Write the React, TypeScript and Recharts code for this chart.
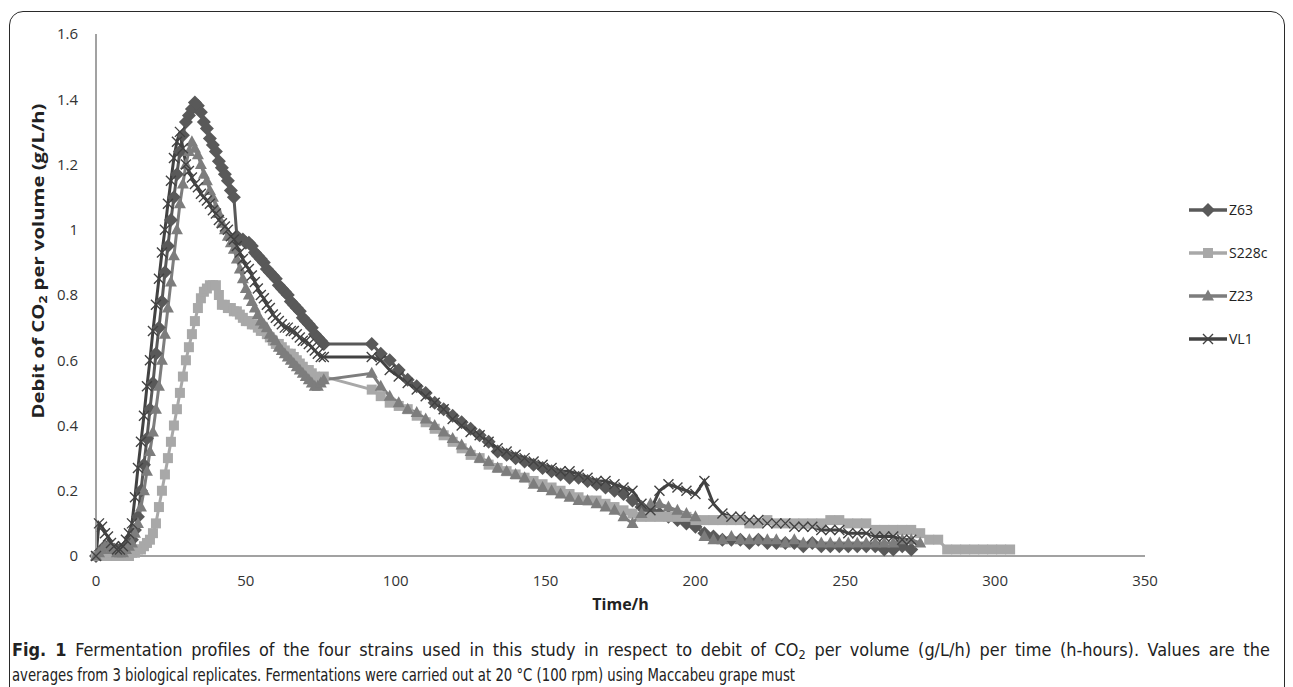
import { useLayoutEffect, useRef, useState } from "react";
import { Legend, Line, LineChart, XAxis, YAxis } from "recharts";

// sampling times (h): hourly while the peak builds, then every 3 h after the overnight gap (76 -> 92)
const TIME_H = [
  0, 1, 2, 3, 4, 5, 6, 7, 8, 9, 10, 11, 12, 13, 14, 15, 16, 17, 18, 19,
  20, 21, 22, 23, 24, 25, 26, 27, 28, 29, 30, 31, 32, 33, 34, 35, 36, 37, 38, 39,
  40, 41, 42, 43, 44, 45, 46, 47, 48, 49, 50, 51, 52, 53, 54, 55, 56, 57, 58, 59,
  60, 61, 62, 63, 64, 65, 66, 67, 68, 69, 70, 71, 72, 73, 74, 75, 76,
  92, 95, 98, 101, 104, 107, 110, 113, 116, 119, 122, 125, 128, 131, 134, 137, 140, 143, 146, 149,
  152, 155, 158, 161, 164, 167, 170, 173, 176, 179, 182, 185, 188, 191, 194, 197, 200, 203, 206, 209,
  212, 215, 218, 221, 224, 227, 230, 233, 236, 239, 242, 245, 248, 251, 254, 257, 260, 263, 266, 269,
  272, 275, 278, 281, 284, 287, 290, 293, 296, 299, 302, 305,
];

const Z63 = [
  0, 0.01, 0.02, 0.03, 0.03, 0.02, 0.02, 0.02, 0.02, 0.02, 0.03, 0.04, 0.05, 0.08, 0.12, 0.2, 0.28, 0.36, 0.45, 0.53,
  0.62, 0.7, 0.78, 0.87, 0.95, 1.03, 1.1, 1.17, 1.24, 1.29, 1.33, 1.35, 1.37, 1.39, 1.38, 1.36, 1.33, 1.31, 1.28, 1.26,
  1.24, 1.21, 1.19, 1.17, 1.15, 1.12, 1.1, 0.98, 0.97, 0.97, 0.96, 0.96, 0.95, 0.93, 0.92, 0.91, 0.9, 0.88, 0.87, 0.86,
  0.85, 0.83, 0.82, 0.81, 0.8, 0.78, 0.77, 0.76, 0.75, 0.73, 0.72, 0.71, 0.7, 0.68, 0.67, 0.66, 0.65,
  0.65, 0.62, 0.6, 0.57, 0.54, 0.52, 0.5, 0.47, 0.45, 0.43, 0.41, 0.39, 0.37, 0.35, 0.32, 0.31, 0.3, 0.29, 0.28, 0.27,
  0.26, 0.25, 0.24, 0.24, 0.23, 0.22, 0.21, 0.2, 0.19, 0.17, 0.15, 0.14, 0.13, 0.12, 0.11, 0.1, 0.09, 0.07, 0.06, 0.05,
  0.05, 0.05, 0.04, 0.05, 0.04, 0.04, 0.04, 0.04, 0.03, 0.04, 0.03, 0.03, 0.03, 0.03, 0.03, 0.03, 0.03, 0.02, 0.02, 0.03,
  0.02, null, null, null, null, null, null, null, null, null, null, null,
];

const S228C = [
  0, 0, 0, 0, 0, 0.01, 0.01, 0, 0, 0, 0, 0, 0.01, 0.01, 0.02, 0.02, 0.03, 0.04, 0.05, 0.07,
  0.1, 0.15, 0.2, 0.25, 0.3, 0.35, 0.4, 0.45, 0.5, 0.55, 0.6, 0.64, 0.68, 0.72, 0.76, 0.79, 0.81, 0.82, 0.83, 0.83,
  0.83, 0.8, 0.77, 0.77, 0.76, 0.76, 0.75, 0.75, 0.74, 0.73, 0.72, 0.72, 0.71, 0.71, 0.7, 0.69, 0.69, 0.68, 0.67, 0.66,
  0.65, 0.65, 0.64, 0.63, 0.62, 0.62, 0.61, 0.6, 0.59, 0.58, 0.57, 0.57, 0.56, 0.55, 0.54, 0.54, 0.55,
  0.51, 0.49, 0.47, 0.46, 0.45, 0.43, 0.41, 0.39, 0.37, 0.35, 0.33, 0.31, 0.3, 0.28, 0.27, 0.26, 0.25, 0.24, 0.23, 0.22,
  0.21, 0.2, 0.19, 0.18, 0.17, 0.17, 0.16, 0.15, 0.14, 0.13, 0.12, 0.12, 0.12, 0.12, 0.12, 0.12, 0.11, 0.11, 0.11, 0.11,
  0.11, 0.11, 0.1, 0.1, 0.11, 0.1, 0.1, 0.1, 0.1, 0.1, 0.1, 0.11, 0.11, 0.1, 0.1, 0.1, 0.08, 0.08, 0.08, 0.08,
  0.08, 0.07, 0.05, 0.05, 0.02, 0.02, 0.02, 0.02, 0.02, 0.02, 0.02, 0.02,
];

const Z23 = [
  0, 0.01, 0.02, 0.03, 0.03, 0.02, 0.02, 0.01, 0.01, 0.01, 0.02, 0.03, 0.04, 0.07, 0.1, 0.15, 0.2, 0.26, 0.32, 0.38,
  0.45, 0.52, 0.6, 0.68, 0.76, 0.84, 0.92, 1.0, 1.08, 1.14, 1.2, 1.24, 1.27, 1.25, 1.23, 1.2, 1.17, 1.15, 1.12, 1.1,
  1.07, 1.05, 1.02, 1.0, 0.98, 0.96, 0.94, 0.91, 0.88, 0.85, 0.82, 0.8, 0.78, 0.76, 0.74, 0.72, 0.71, 0.7, 0.68, 0.67,
  0.66, 0.64, 0.63, 0.62, 0.61, 0.6, 0.59, 0.58, 0.57, 0.56, 0.55, 0.54, 0.53, 0.52, 0.52, 0.53, 0.54,
  0.56, 0.52, 0.49, 0.47, 0.45, 0.44, 0.42, 0.4, 0.38, 0.36, 0.34, 0.32, 0.3, 0.29, 0.27, 0.26, 0.25, 0.24, 0.22, 0.21,
  0.2, 0.19, 0.18, 0.17, 0.17, 0.16, 0.15, 0.14, 0.12, 0.1, 0.13, 0.16, 0.16, 0.15, 0.14, 0.13, 0.12, 0.06, 0.05, 0.05,
  0.06, 0.05, 0.05, 0.05, 0.05, 0.05, 0.04, 0.05, 0.04, 0.04, 0.04, 0.04, 0.04, 0.04, 0.04, 0.04, 0.04, 0.04, 0.04, 0.05,
  0.05, 0.04, null, null, null, null, null, null, null, null, null, null,
];

const VL1 = [
  0, 0.1, 0.09, 0.07, 0.06, 0.04, 0.03, 0.02, 0.02, 0.03, 0.05, 0.07, 0.1, 0.18, 0.27, 0.35, 0.43, 0.52, 0.6, 0.69,
  0.77, 0.85, 0.93, 1.0, 1.08, 1.15, 1.22, 1.27, 1.3, 1.25, 1.2, 1.18, 1.16, 1.14, 1.13, 1.11, 1.1, 1.09, 1.08, 1.06,
  1.05, 1.03, 1.02, 1.01, 1.0, 0.98, 0.97, 0.95, 0.93, 0.91, 0.89, 0.88, 0.86, 0.84, 0.82, 0.8, 0.79, 0.77, 0.76, 0.74,
  0.73, 0.72, 0.71, 0.7, 0.7, 0.69, 0.69, 0.68, 0.67, 0.66, 0.66, 0.65, 0.64, 0.63, 0.62, 0.61, 0.61,
  0.61, 0.6, 0.57, 0.55, 0.53, 0.51, 0.49, 0.47, 0.45, 0.42, 0.4, 0.38, 0.37, 0.35, 0.33, 0.32, 0.31, 0.3, 0.29, 0.28,
  0.27, 0.26, 0.26, 0.25, 0.24, 0.23, 0.23, 0.22, 0.21, 0.2, 0.16, 0.14, 0.2, 0.22, 0.21, 0.2, 0.19, 0.23, 0.16, 0.13,
  0.12, 0.12, 0.11, 0.11, 0.1, 0.1, 0.1, 0.09, 0.09, 0.09, 0.08, 0.08, 0.08, 0.07, 0.07, 0.07, 0.06, 0.06, 0.06, 0.05,
  0.05, null, null, null, null, null, null, null, null, null, null, null,
];

const X_TICKS = [0, 50, 100, 150, 200, 250, 300, 350];
const Y_TICKS = [0, 0.2, 0.4, 0.6, 0.8, 1, 1.2, 1.4, 1.6];

const SERIES = [
  { key: "Z63", values: Z63, color: "#595959", shape: "diamond" },
  { key: "S228c", values: S228C, color: "#a8a8a8", shape: "square" },
  { key: "Z23", values: Z23, color: "#7d7d7d", shape: "triangle" },
  { key: "VL1", values: VL1, color: "#424242", shape: "cross" },
];

const CAPTION_1A = "Fig. 1";
const CAPTION_1B = " Fermentation profiles of the four strains used in this study in respect to debit of CO";
const CAPTION_1C = " per volume (g/L/h) per time (h-hours). Values are the";
const CAPTION_2 =
  "averages from 3 biological replicates. Fermentations were carried out at 20 °C (100 rpm) using Maccabeu grape must";

const rows = TIME_H.map((t, i) => {
  const row: Record<string, number | null> = { t };
  SERIES.forEach((s) => (row[s.key] = s.values[i]));
  return row;
});

const FONT = "'Open Sans', 'DejaVu Sans', sans-serif";
const CAPTION_FONT = "'DejaVu Sans Condensed', 'Liberation Sans Narrow', 'Open Sans', sans-serif";
const AXIS_GREY = "#a2a2a2";

function Marker({ shape, cx, cy, color }: { shape: string; cx?: number; cy?: number; color: string }) {
  if (cx == null || cy == null || Number.isNaN(cx) || Number.isNaN(cy)) return null;
  if (shape === "diamond") {
    return <polygon points={`${cx},${cy - 7} ${cx + 7},${cy} ${cx},${cy + 7} ${cx - 7},${cy}`} fill={color} />;
  }
  if (shape === "square") {
    return <rect x={cx - 5} y={cy - 5} width={10} height={10} fill={color} />;
  }
  if (shape === "triangle") {
    return <polygon points={`${cx},${cy - 6.5} ${cx + 6},${cy + 4.5} ${cx - 6},${cy + 4.5}`} fill={color} />;
  }
  return (
    <path
      d={`M${cx - 5},${cy - 5}L${cx + 5},${cy + 5}M${cx + 5},${cy - 5}L${cx - 5},${cy + 5}`}
      stroke={color}
      strokeWidth={1.4}
      fill="none"
    />
  );
}

// legend keeps the series order of the original (Z63, S228c, Z23, VL1)
const LegendContent = ({ payload }: any) => {
  const items = [...(payload || [])].sort(
    (a: any, b: any) => SERIES.findIndex((s) => s.key === a.value) - SERIES.findIndex((s) => s.key === b.value)
  );
  return (
    <div style={{ fontFamily: FONT, fontSize: 14, color: "#222" }}>
      {items.map((item: any) => {
        const s = SERIES.find((x) => x.key === item.value)!;
        return (
          <div key={s.key} style={{ display: "flex", alignItems: "center", height: 43 }}>
            <svg width={40} height={16} style={{ display: "block" }}>
              <line x1={1} x2={39} y1={8} y2={8} stroke={s.color} strokeWidth={3.5} />
              <Marker shape={s.shape} cx={20} cy={8} color={s.color} />
            </svg>
            <span style={{ marginLeft: 1 }}>{s.key}</span>
          </div>
        );
      })}
    </div>
  );
};

const yLabel = () => (
  <text
    x={38}
    y={261}
    transform="rotate(-90, 38, 261)"
    textAnchor="middle"
    dominantBaseline="central"
    textLength={315}
    lengthAdjust="spacingAndGlyphs"
    fontFamily={FONT}
    fontWeight={700}
    fontSize={16}
    fill="#222"
  >
    Debit of CO<tspan dy={4} fontSize={11}>2</tspan>
    <tspan dy={-4}> per volume (g/L/h)</tspan>
  </text>
);

const xLabel = ({ viewBox }: any) => (
  <text
    x={viewBox.x + viewBox.width / 2}
    y={604}
    textAnchor="middle"
    dominantBaseline="central"
    fontFamily={FONT}
    fontWeight={700}
    fontSize={16}
    fill="#222"
  >
    Time/h
  </text>
);

const CAP_SX = 0.8;
const LINE1_WIDTH = 1258;
const LINE1_EXTRA_GAP = 3.5;

function Caption() {
  // first caption line is justified: slightly wider glyphs plus a little extra word spacing
  const line1 = useRef<SVGTextElement>(null);
  const [fit, setFit] = useState({ sx: 0.88, gap: 0 });
  useLayoutEffect(() => {
    if (!line1.current) return;
    const natural = line1.current.getComputedTextLength();
    const spaces = (CAPTION_1A + CAPTION_1B + "2" + CAPTION_1C).split(" ").length - 1;
    const sx = (LINE1_WIDTH - spaces * LINE1_EXTRA_GAP) / natural;
    setFit({ sx, gap: LINE1_EXTRA_GAP / sx });
  }, []);
  return (
    <svg width={1293} height={60} style={{ position: "absolute", left: 0, top: 630 }}>
      <g transform={`translate(12,0) scale(${fit.sx},1)`} fontFamily={CAPTION_FONT} fontSize={17} fill="#222">
        <text ref={line1} x={0} y={26} style={{ wordSpacing: fit.gap }}>
          <tspan fontWeight={700}>{CAPTION_1A}</tspan>
          {CAPTION_1B}
          <tspan dy={3} fontSize={12}>2</tspan>
          <tspan dy={-3}>{CAPTION_1C}</tspan>
        </text>
      </g>
      <g transform={`translate(12,0) scale(${CAP_SX},1)`} fontFamily={CAPTION_FONT} fontSize={17} fill="#222">
        <text x={0} y={51} textLength={783 / CAP_SX} lengthAdjust="spacingAndGlyphs">
          {CAPTION_2}
        </text>
      </g>
    </svg>
  );
}

export default function App() {
  return (
    <div style={{ position: "absolute", left: 0, top: 0, width: 1293, height: 687, overflow: "hidden", background: "#fff" }}>
      <div
        style={{
          position: "absolute",
          left: 9,
          top: 11,
          width: 1274,
          height: 700,
          border: "1.5px solid #2a2a2a",
          borderRadius: 14,
        }}
      />
      <div style={{ position: "absolute", left: 0, top: 0 }}>
        <LineChart width={1293} height={620} data={rows} margin={{ top: 34, right: 148, bottom: 0, left: 20 }}>
          <XAxis
            type="number"
            dataKey="t"
            domain={[0, 350]}
            ticks={X_TICKS}
            tickLine={false}
            tickMargin={13}
            height={64}
            axisLine={{ stroke: AXIS_GREY, strokeWidth: 2 }}
            tick={{ fontFamily: FONT, fontSize: 15, fill: "#333" }}
            label={xLabel}
          />
          <YAxis
            type="number"
            domain={[0, 1.6]}
            ticks={Y_TICKS}
            width={76}
            tickLine={false}
            tickMargin={12}
            axisLine={{ stroke: AXIS_GREY, strokeWidth: 2 }}
            tick={{ fontFamily: FONT, fontSize: 15, fill: "#333" }}
            label={yLabel}
          />
          <Legend
            layout="vertical"
            align="center"
            verticalAlign="middle"
            content={LegendContent}
            wrapperStyle={{ left: 1188, top: 188, width: 100 }}
          />
          {SERIES.map((s) => (
            <Line
              key={s.key}
              dataKey={s.key}
              name={s.key}
              stroke={s.color}
              strokeWidth={3}
              isAnimationActive={false}
              dot={(p: any) => <Marker key={p.index} shape={s.shape} cx={p.cx} cy={p.cy} color={s.color} />}
              activeDot={false}
            />
          ))}
        </LineChart>
      </div>
      <Caption />
    </div>
  );
}
